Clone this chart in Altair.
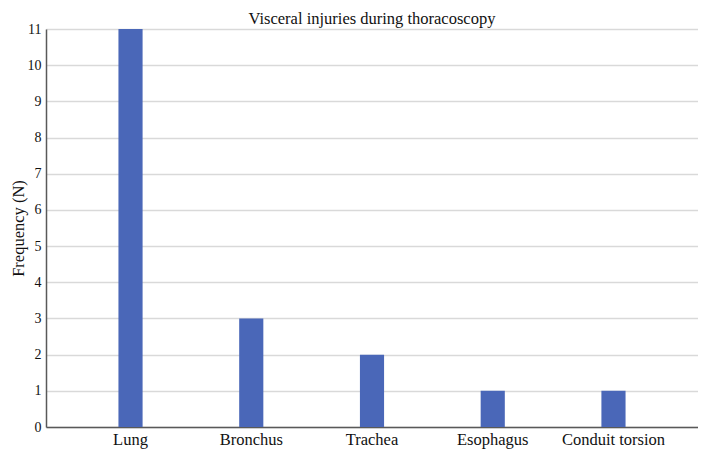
import altair as alt
import pandas as pd

categories = ["Lung", "Bronchus", "Trachea", "Esophagus", "Conduit torsion"]
frequency = [11, 3, 2, 1, 1]
y_ticks = list(range(0, 12))

df = pd.DataFrame({"injury": categories, "n": frequency})

FONT = "Liberation Serif"

chart = alt.Chart(df).mark_bar(color="#4a67b8").encode(
    x=alt.X(
        "injury:N",
        sort=categories,
        title=None,
        scale=alt.Scale(paddingInner=0.8, paddingOuter=0.6),
        axis=alt.Axis(
            labelAngle=0, labelFont=FONT, labelFontSize=16.5, labelColor="#111",
            domainColor="#595959", domainWidth=1.5, ticks=False, labelPadding=4,
            grid=False,
        ),
    ),
    y=alt.Y(
        "n:Q",
        title="Frequency (N)",
        scale=alt.Scale(domain=[0, 11], nice=False),
        axis=alt.Axis(
            values=y_ticks, labelFont=FONT, labelFontSize=14, labelColor="#111",
            titleFont=FONT, titleFontSize=16.5, titleFontWeight="normal", titleColor="#111",
            titlePadding=1, labelPadding=5, ticks=False,
            domainColor="#595959", domainWidth=1.5,
            gridColor="#d9d9d9", gridWidth=1.5,
        ),
    ),
).properties(
    width=652,
    height=398,
    title=alt.TitleParams(
        "Visceral injuries during thoracoscopy",
        font=FONT, fontSize=16.5, fontWeight="normal", color="#111", offset=-5,
    ),
    autosize=alt.AutoSizeParams(type="none"),
    padding={"left": 38, "top": 21, "right": 0, "bottom": 22},
).configure_view(stroke=None)

chart.save("out.html", embed_options={"renderer": "svg", "actions": False})
